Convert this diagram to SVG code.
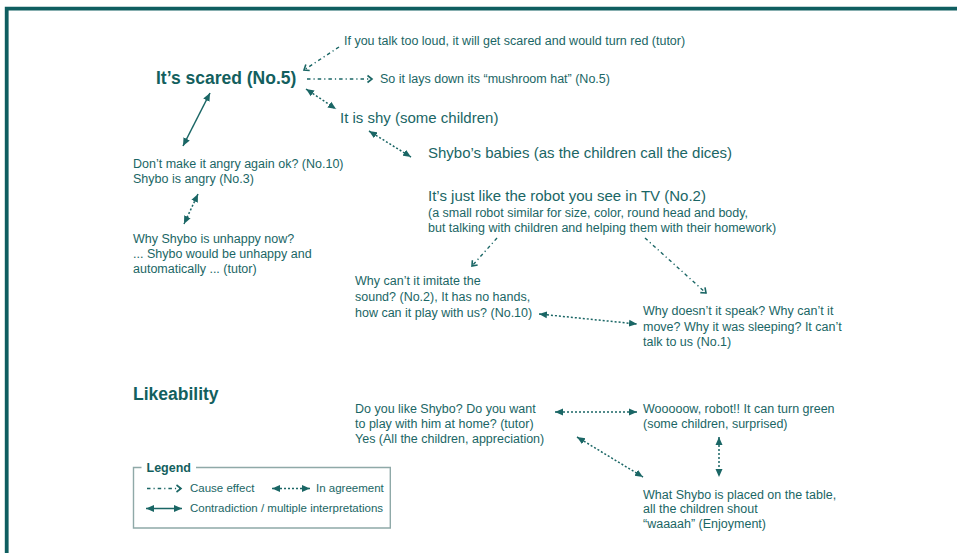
<svg xmlns="http://www.w3.org/2000/svg" width="957" height="553" viewBox="0 0 957 553">
<style>
text{font-family:"Liberation Sans",Arial,sans-serif;fill:#1a6665}
.s{font-size:12.5px}
.m{font-size:15px}
.b{font-size:17.5px;font-weight:bold;fill:#135f5e}
.lg{font-size:11.5px}
.cause{stroke:#1a6665;stroke-width:1.4;fill:none;stroke-dasharray:3.5 3 1.2 3}
.agree{stroke:#1a6665;stroke-width:1.5;fill:none;stroke-dasharray:2 2}
.contra{stroke:#1a6665;stroke-width:1.5;fill:none}
</style>
<defs>
<marker id="chev" markerUnits="userSpaceOnUse" markerWidth="10" markerHeight="10" refX="6" refY="4" orient="auto" viewBox="0 0 10 8">
<path d="M1.5,0.5 L6,4 L1.5,7.5" fill="none" stroke="#1a6665" stroke-width="1.6"/>
</marker>
<marker id="tri" markerUnits="userSpaceOnUse" markerWidth="9" markerHeight="8" refX="8" refY="4" orient="auto-start-reverse" viewBox="0 0 9 8">
<path d="M0,0.5 L8,4 L0,7.5 Z" fill="#1a6665"/>
</marker>
</defs>
<rect width="957" height="553" fill="#ffffff"/>
<path d="M6.7,553 V8.7 H957" fill="none" stroke="#0f5e60" stroke-width="3.8"/>

<g id="connectors">
<line class="cause" x1="339" y1="47" x2="304" y2="70" marker-end="url(#chev)"/>
<line class="cause" x1="307" y1="79" x2="372" y2="79" marker-end="url(#chev)"/>
<line class="agree" x1="306" y1="89" x2="336" y2="109" marker-start="url(#tri)" marker-end="url(#tri)"/>
<line class="agree" x1="369" y1="131" x2="411" y2="157" marker-start="url(#tri)" marker-end="url(#tri)"/>
<line class="contra" x1="210" y1="93" x2="183" y2="146" marker-start="url(#tri)" marker-end="url(#tri)"/>
<line class="agree" x1="198" y1="194" x2="184" y2="224" marker-start="url(#tri)" marker-end="url(#tri)"/>
<line class="cause" x1="497" y1="238" x2="472" y2="266" marker-end="url(#chev)"/>
<line class="cause" x1="645" y1="238" x2="706" y2="293" marker-end="url(#chev)"/>
<line class="agree" x1="539" y1="314" x2="637" y2="324" marker-start="url(#tri)" marker-end="url(#tri)"/>
<line class="agree" x1="555" y1="412" x2="637" y2="412" marker-start="url(#tri)" marker-end="url(#tri)"/>
<line class="agree" x1="577" y1="437" x2="643" y2="477" marker-start="url(#tri)" marker-end="url(#tri)"/>
<line class="agree" x1="719" y1="437" x2="719" y2="477" marker-start="url(#tri)" marker-end="url(#tri)"/>
</g>

<g id="n-loud"><text class="s" x="344" y="45">If you talk too loud, it will get scared and would turn red (tutor)</text></g>
<g id="n-scared"><text class="b" x="156" y="84">It’s scared (No.5)</text></g>
<g id="n-hat"><text class="s" x="380" y="83">So it lays down its “mushroom hat” (No.5)</text></g>
<g id="n-shy"><text class="m" x="340" y="123">It is shy (some children)</text></g>
<g id="n-babies"><text class="m" x="428" y="158">Shybo’s babies (as the children call the dices)</text></g>
<g id="n-tv">
<text class="m" x="428" y="201">It’s just like the robot you see in TV (No.2)</text>
<text class="s" x="428" y="217">(a small robot similar for size, color, round head and body,</text>
<text class="s" x="428" y="232">but talking with children and helping them with their homework)</text>
</g>
<g id="n-angry">
<text class="s" x="133" y="167.5">Don’t make it angry again ok? (No.10)</text>
<text class="s" x="133" y="183">Shybo is angry (No.3)</text>
</g>
<g id="n-unhappy">
<text class="s" x="133" y="242.5">Why Shybo is unhappy now?</text>
<text class="s" x="133" y="258">... Shybo would be unhappy and</text>
<text class="s" x="133" y="273">automatically ... (tutor)</text>
</g>
<g id="n-imitate">
<text class="s" x="355" y="285">Why can’t it imitate the</text>
<text class="s" x="355" y="301">sound? (No.2), It has no hands,</text>
<text class="s" x="355" y="316.5">how can it play with us? (No.10)</text>
</g>
<g id="n-speak">
<text class="s" x="643" y="315">Why doesn’t it speak? Why can’t it</text>
<text class="s" x="643" y="330.5">move? Why it was sleeping? It can’t</text>
<text class="s" x="643" y="346">talk to us (No.1)</text>
</g>
<g id="n-likeability"><text class="b" x="133" y="400">Likeability</text></g>
<g id="n-like">
<text class="s" x="355" y="412.5">Do you like Shybo? Do you want</text>
<text class="s" x="355" y="427.5">to play with him at home? (tutor)</text>
<text class="s" x="355" y="442.5">Yes (All the children, appreciation)</text>
</g>
<g id="n-wow">
<text class="s" x="643" y="412.5">Wooooow, robot!! It can turn green</text>
<text class="s" x="643" y="428">(some children, surprised)</text>
</g>
<g id="n-table">
<text class="s" x="643" y="498.5">What Shybo is placed on the table,</text>
<text class="s" x="643" y="513">all the children shout</text>
<text class="s" x="643" y="528">“waaaah” (Enjoyment)</text>
</g>

<g id="legend">
<path d="M196,467.5 H390.3 V528 H133.5 V467.5 H141.5" fill="none" stroke="#8fa9a8" stroke-width="1.4"/>
<text x="146.5" y="471.5" style="font-size:12.5px;font-weight:bold;fill:#135f5e">Legend</text>
<line class="cause" x1="147" y1="488.5" x2="181" y2="488.5" marker-end="url(#chev)"/>
<text class="lg" x="190" y="492">Cause effect</text>
<line class="agree" x1="272" y1="488.5" x2="310" y2="488.5" marker-start="url(#tri)" marker-end="url(#tri)"/>
<text class="lg" x="316" y="492">In agreement</text>
<line class="contra" x1="146" y1="508.5" x2="182" y2="508.5" marker-start="url(#tri)" marker-end="url(#tri)"/>
<text class="lg" x="190" y="512">Contradiction / multiple interpretations</text>
</g>
</svg>
